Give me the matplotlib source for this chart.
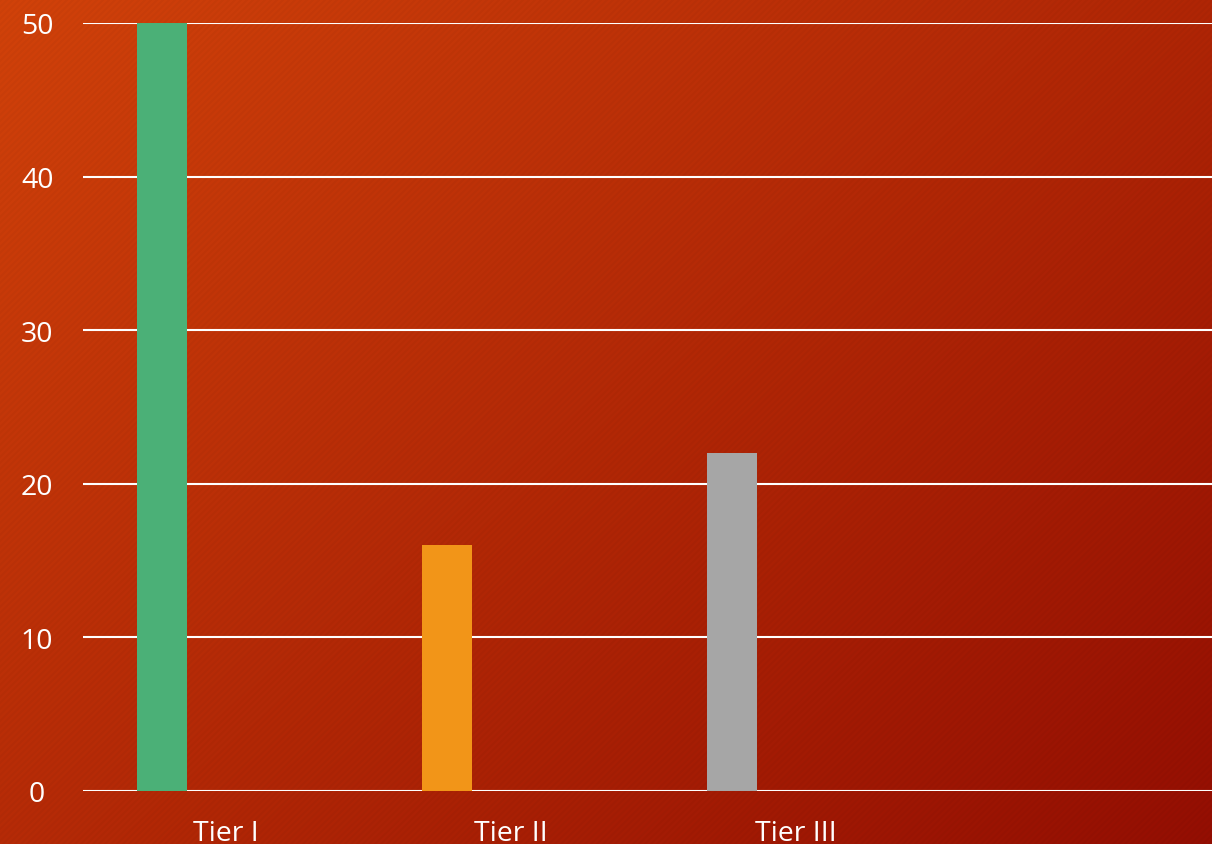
import numpy as np
import matplotlib
matplotlib.use("Agg")
import matplotlib.pyplot as plt

categories = ["Tier I", "Tier II", "Tier III"]
values = [50, 16, 22]
bar_colors = ["#4BB077", "#F29518", "#A6A6A6"]
yticks = [0, 10, 20, 30, 40, 50]

W, H = 1212, 845
fig = plt.figure(figsize=(W / 100, H / 100), dpi=100)

# background gradient with faint diagonal stripes
bg = fig.add_axes([0, 0, 1, 1])
yy, xx = np.mgrid[0:H, 0:W]
t = (xx / W * 0.55 + yy / H * 0.45)
c0 = np.array([209, 66, 10]) / 255.0
c1 = np.array([148, 14, 2]) / 255.0
img = c0[None, None, :] * (1 - t[..., None]) + c1[None, None, :] * t[..., None]
stripe = (((xx + yy) % 6) < 3).astype(float)
img = img * (1 - 0.025 * stripe[..., None])
bg.imshow(np.clip(img, 0, 1), aspect="auto", extent=[0, 1, 0, 1], origin="upper")
bg.set_axis_off()

left = 83 / W
bottom = 1 - 792 / H
top = 1 - 24 / H
ax = fig.add_axes([left, bottom, 1 - left, top - bottom])
ax.patch.set_alpha(0)

x = np.arange(len(categories))
offset = -0.223
width = 0.175
ax.bar(x + offset, values, width=width, color=bar_colors, zorder=3)

ax.set_ylim(0, 50)
ax.set_xlim(-0.5, 3.46)
ax.set_yticks(yticks)
ax.set_yticklabels([str(v) for v in yticks])
ax.set_xticks(x)
ax.set_xticklabels(categories)

ax.grid(axis="y", color="white", linewidth=1.5, zorder=1)
ax.set_axisbelow(True)
for s in ax.spines.values():
    s.set_visible(False)

ax.tick_params(axis="both", length=0, colors="white", labelsize=20.5)
ax.tick_params(axis="y", pad=33)
ax.tick_params(axis="x", pad=20)
for lab in ax.get_yticklabels():
    lab.set_horizontalalignment("center")
    lab.set_family(["Open Sans", "DejaVu Sans"])
for lab in ax.get_xticklabels():
    lab.set_family(["Open Sans", "DejaVu Sans"])

fig.savefig("out.png", dpi=100)
